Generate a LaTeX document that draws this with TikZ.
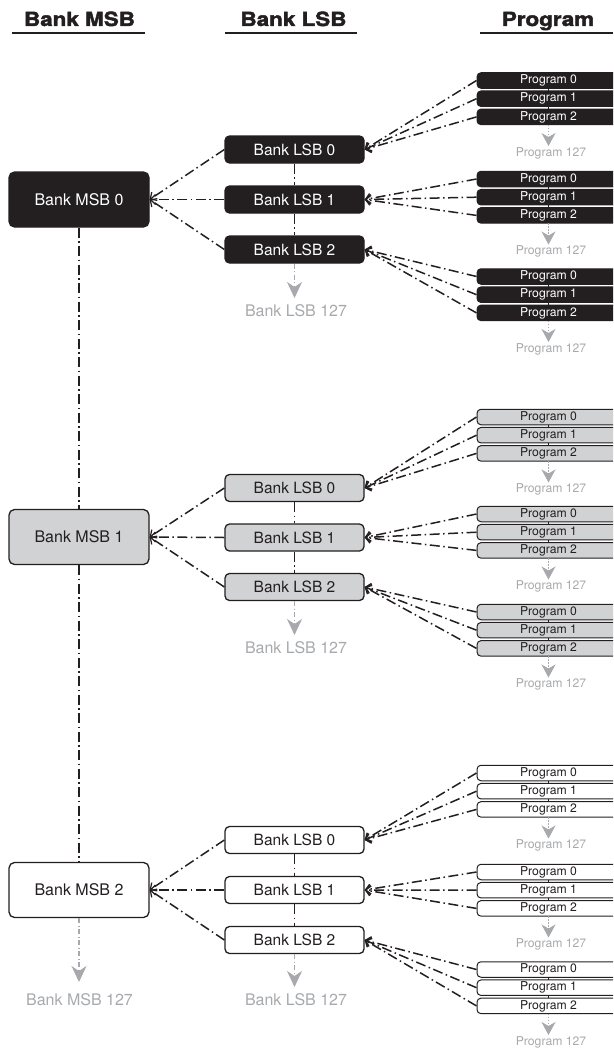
\documentclass[tikz,border=0pt]{standalone}
\usepackage{fontspec}
\setmainfont{TeX Gyre Heros}
\newfontfamily\headfont[FakeStretch=1.15,FakeBold=2.2]{TeX Gyre Heros}
\usetikzlibrary{arrows.meta}
\definecolor{boxblack}{HTML}{231F20}
\definecolor{boxgray}{HTML}{D1D2D4}
\definecolor{moregray}{HTML}{A7A9AC}
\tikzset{
  head/.style={font=\headfont\bfseries\fontsize{19.5}{22}\selectfont, text=boxblack, anchor=base, inner sep=0},
  headline/.style={draw=boxblack, line width=1.2pt},
  msbbox/.style={rounded corners=5.5pt, minimum width=140pt, minimum height=55pt, inner sep=0, line width=1.3pt, font=\fontsize{16}{18}\selectfont},
  lsbbox/.style={rounded corners=4.5pt, minimum width=139pt, minimum height=27pt, inner sep=0, line width=1.3pt, font=\fontsize{15.5}{18}\selectfont},
  progbox/.style={rounded corners=4pt, minimum width=163pt, minimum height=15.5pt, inner sep=0, line width=1pt, font=\fontsize{12.2}{13}\selectfont},
  blk/.style={fill=boxblack, draw=boxblack, text=white},
  gry/.style={fill=boxgray, draw=boxblack, text=boxblack},
  wht/.style={fill=white, draw=boxblack, text=boxblack},
  dashdot/.style={dash pattern=on 10pt off 3.5pt on 1.5pt off 3.5pt},
  link/.style={draw=boxblack, line width=1.5pt, dashdot, -{Straight Barb[length=5pt,width=10pt,line width=1.2pt]}},
  vlink/.style={draw=boxblack, line width=1.5pt, dashdot},
  tick/.style={draw=boxblack, line width=0.9pt},
  more/.style={draw=moregray, line width=1.1pt, dash pattern=on 5pt off 2.5pt on 1pt off 2.5pt, -{Stealth[length=16pt,width=15pt,inset=5pt]}},
  moresmall/.style={draw=moregray, line width=0.8pt, dash pattern=on 1.5pt off 1.5pt, -{Stealth[length=13pt,width=14pt,inset=4pt]}},
  morelabel/.style={text=moregray, inner sep=0, font=\fontsize{16}{18}\selectfont},
  progmore/.style={text=moregray, inner sep=0, font=\fontsize{12.2}{13}\selectfont},
}
\begin{document}
\begin{tikzpicture}[x=1pt,y=-1pt]
\useasboundingbox (0,0) rectangle (613,1049);
\begin{scope}
\clip (0,0) rectangle (613,1049);
% headers
\node[head] (hmsb) at (79.5,26) {Bank MSB};
\node[head] (hlsb) at (293.5,26) {Bank LSB};
\node[head] (hprog) at (548,26) {Program};
\draw[headline] (12,33) -- (145,33);
\draw[headline] (225,33) -- (357,33);
\draw[headline] (480,33) -- (613,33);
% groups
\foreach \g/\sty/\my/\la/\lb/\lc/\ltip/\llab/\pa/\pb/\pc in
  {0/blk/199.5/149.5/199.5/249.5/298/311/80.5/179/276.5,
   1/gry/537/488/537.5/587/635/648/417/514/612,
   2/wht/890/840/890/940/987/999.5/773/872/969.5}{
  \node[msbbox,\sty] (m\g) at (79,\my) {Bank MSB \g};
  \foreach \k/\ly/\py in {0/\la/\pa, 1/\lb/\pb, 2/\lc/\pc}{
    \node[lsbbox,\sty] (l\g\k) at (294.5,\ly) {Bank LSB \k};
    \draw[link] (l\g\k.west) -- (m\g.east);
    \foreach \i in {0,1,2}{
      \node[progbox,\sty] (p\g\k\i) at (558.5,{\py+18.2*\i}) {Program \i\kern20pt};
      \draw[link] (p\g\k\i.west) -- (l\g\k.east);
    }
    \coordinate (pa\g\k) at (548.5,{\py+7.75});
    \coordinate (pb\g\k) at (548.5,{\py+10.45});
    \coordinate (pc\g\k) at (548.5,{\py+25.95});
    \coordinate (pd\g\k) at (548.5,{\py+28.65});
    \coordinate (pe\g\k) at (548.5,{\py+44.15});
    \draw[tick] (pa\g\k) -- (pb\g\k);
    \draw[tick] (pc\g\k) -- (pd\g\k);
    \coordinate (pt\g\k) at (548.5,{\py+65.5});
    \draw[moresmall] (pe\g\k) -- (pt\g\k);
    \node[progmore] (pl\g\k) at (551,{\py+72.5}) {Program 127};
  }
  \draw[vlink] (l\g0.south) -- (l\g1.north);
  \draw[vlink] (l\g1.south) -- (l\g2.north);
  \coordinate (lt\g) at (294.5,\ltip);
  \draw[more] (l\g2.south) -- (lt\g);
  \node[morelabel] (ll\g) at (296,\llab) {Bank LSB 127};
}
\draw[vlink] (m0.south) -- (m1.north);
\draw[vlink] (m1.south) -- (m2.north);
\coordinate (mt) at (79,982);
\draw[more] (m2.south) -- (mt);
\node[morelabel] (ml) at (79.5,1000) {Bank MSB 127};
\end{scope}
\end{tikzpicture}
\end{document}
